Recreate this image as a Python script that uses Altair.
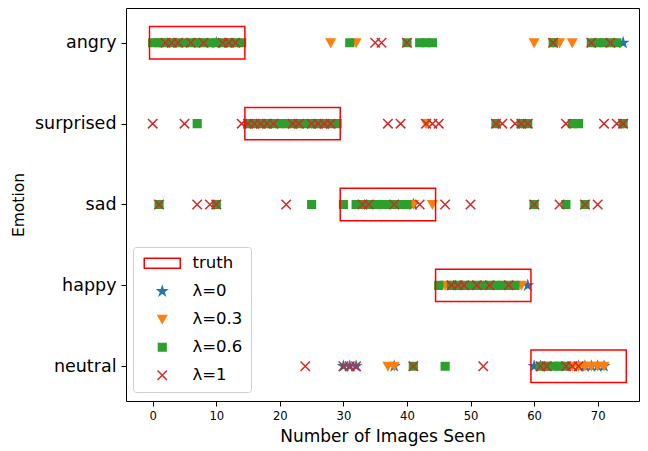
import altair as alt
import pandas as pd

emotions = ["angry", "surprised", "sad", "happy", "neutral"]
series_names = ["λ=0", "λ=0.3", "λ=0.6", "λ=1"]
legend_domain = ["truth"] + series_names

truth_lo = [-0.5, 14.5, 29.5, 44.5, 59.5]
truth_hi = [14.5, 29.5, 44.5, 59.5, 74.5]

lam0 = {
    "angry": [10, 74],
    "surprised": [],
    "sad": [41],
    "happy": [59],
    "neutral": [30, 31, 32, 38, 60, 61, 67, 68, 69, 70, 71],
}
lam03 = {
    "angry": [1, 7, 28, 32, 60, 63, 64, 66],
    "surprised": [25, 43, 74],
    "sad": [41, 44],
    "happy": [46, 58],
    "neutral": [37, 38, 62, 64, 66, 67, 68, 69, 70, 71],
}
lam06 = {
    "angry": [0, 1, 2, 3, 4, 5, 6, 7, 8, 9, 10, 11, 12, 13, 14, 31, 40, 42, 43, 44, 63, 69, 70, 71, 72, 73],
    "surprised": [7, 15, 16, 17, 18, 19, 20, 21, 22, 23, 24, 25, 26, 27, 28, 29, 54, 58, 59, 66, 67, 74],
    "sad": [1, 10, 25, 30, 32, 33, 34, 35, 36, 37, 38, 39, 40, 60, 65, 68],
    "happy": [45, 47, 48, 49, 50, 51, 52, 53, 54, 55, 56, 57],
    "neutral": [41, 46, 61, 62, 63, 64, 65],
}
lam1 = {
    "angry": [2, 3, 4, 6, 8, 11, 12, 13, 35, 36, 40, 63, 69, 72],
    "surprised": [0, 5, 14, 15, 16, 17, 18, 19, 22, 23, 25, 26, 27, 28, 37, 39, 43, 44, 45, 54, 55, 57, 58, 59, 65, 71, 73, 74],
    "sad": [1, 7, 9, 10, 21, 33, 34, 38, 42, 46, 50, 60, 64, 68, 70],
    "happy": [47, 48, 49, 51, 53, 56],
    "neutral": [24, 30, 31, 32, 41, 52, 61, 62, 65, 66, 67],
}

x_ticks = [0, 10, 20, 30, 40, 50, 60, 70]

# build tables
rows = []
for name, d in zip(series_names, [lam0, lam03, lam06, lam1]):
    for e in emotions:
        for v in d[e]:
            rows.append({"series": name, "emotion": e, "level": 4 - emotions.index(e), "x": v})
pts = pd.DataFrame(rows)

truth = pd.DataFrame({
    "emotion": emotions,
    "level": [4 - i for i in range(len(emotions))],
    "lo": truth_lo,
    "hi": truth_hi,
})

STAR = "M0,-1L0.22,-0.31L0.95,-0.31L0.36,0.12L0.59,0.81L0,0.38L-0.59,0.81L-0.36,0.12L-0.95,-0.31L-0.22,-0.31Z"
TRI = "M-0.95,-0.85L0.95,-0.85L0,0.85Z"
SQ = "M-0.85,-0.85H0.85V0.85H-0.85Z"
XX = "M-1.05,-1.05L1.05,1.05M-1.05,1.05L1.05,-1.05"
RECT = "M-4,-1.1H4V1.1H-4Z"

shape_range = [RECT, STAR, TRI, SQ, XX]
fill_range = ["transparent", "#1f77b4", "#ff7f0e", "#2ca02c", "transparent"]
stroke_range = ["#ff0000", "#1f77b4", "#ff7f0e", "#2ca02c", "#d62728"]

xscale = alt.Scale(domain=[-4.2, 76.5], nice=False, zero=False)
yscale = alt.Scale(domain=[-0.43, 4.43], nice=False, zero=False)

label_expr = "['neutral','happy','sad','surprised','angry'][datum.value]"

xaxis = alt.Axis(values=x_ticks, grid=False, domain=False, tickColor="black", tickSize=5,
                 labelColor="black", labelFontSize=11.6, labelPadding=4,
                 title="Number of Images Seen", titleFontSize=17, titleFontWeight="normal",
                 titleColor="black", titlePadding=7)
yaxis = alt.Axis(values=[0, 1, 2, 3, 4], labelExpr=label_expr, grid=False, domain=False,
                 tickColor="black", tickSize=5, labelColor="black", labelFontSize=17.5,
                 labelPadding=5, title="Emotion", titleFontSize=15.5, titleFontWeight="normal",
                 titleColor="black", titlePadding=8)

points = alt.Chart(pts).mark_point(filled=True, opacity=1, strokeWidth=1.5, size=81).encode(
    x=alt.X("x:Q", scale=xscale, axis=xaxis),
    y=alt.Y("level:Q", scale=yscale, axis=yaxis),
    shape=alt.Shape("series:N", scale=alt.Scale(domain=legend_domain, range=shape_range),
                    legend=alt.Legend(title=None)),
    fill=alt.Fill("series:N", scale=alt.Scale(domain=legend_domain, range=fill_range),
                  legend=alt.Legend(title=None)),
    stroke=alt.Stroke("series:N", scale=alt.Scale(domain=legend_domain, range=stroke_range),
                      legend=alt.Legend(title=None)),
)

rects = alt.Chart(truth).transform_calculate(
    y0="datum.level - 0.2", y1="datum.level + 0.2"
).mark_rect(fill="transparent", stroke="#ff0000", strokeWidth=1.5).encode(
    x=alt.X("lo:Q", scale=xscale),
    x2="hi:Q",
    y=alt.Y("y0:Q", scale=yscale),
    y2="y1:Q",
)

chart = alt.layer(points, rects).properties(
    width=513, height=393,
    padding={"left": 126, "top": 8, "right": 9, "bottom": 50},
    autosize="none",
).configure(
    font="DejaVu Sans",
).configure_view(
    stroke="black", strokeWidth=1,
).configure_axis(
    labelFont="DejaVu Sans", titleFont="DejaVu Sans",
).configure_legend(
    orient="none", legendX=7, legendY=239, padding=8,
    fillColor="white", strokeColor="#d0d0d0", cornerRadius=3,
    labelFont="DejaVu Sans", labelFontSize=16.5, labelColor="black",
    rowPadding=11, symbolSize=81, symbolStrokeWidth=1.5,
    symbolOffset=13, labelOffset=22,
)

chart.save("out.html", embed_options={"renderer": "svg", "actions": False})
